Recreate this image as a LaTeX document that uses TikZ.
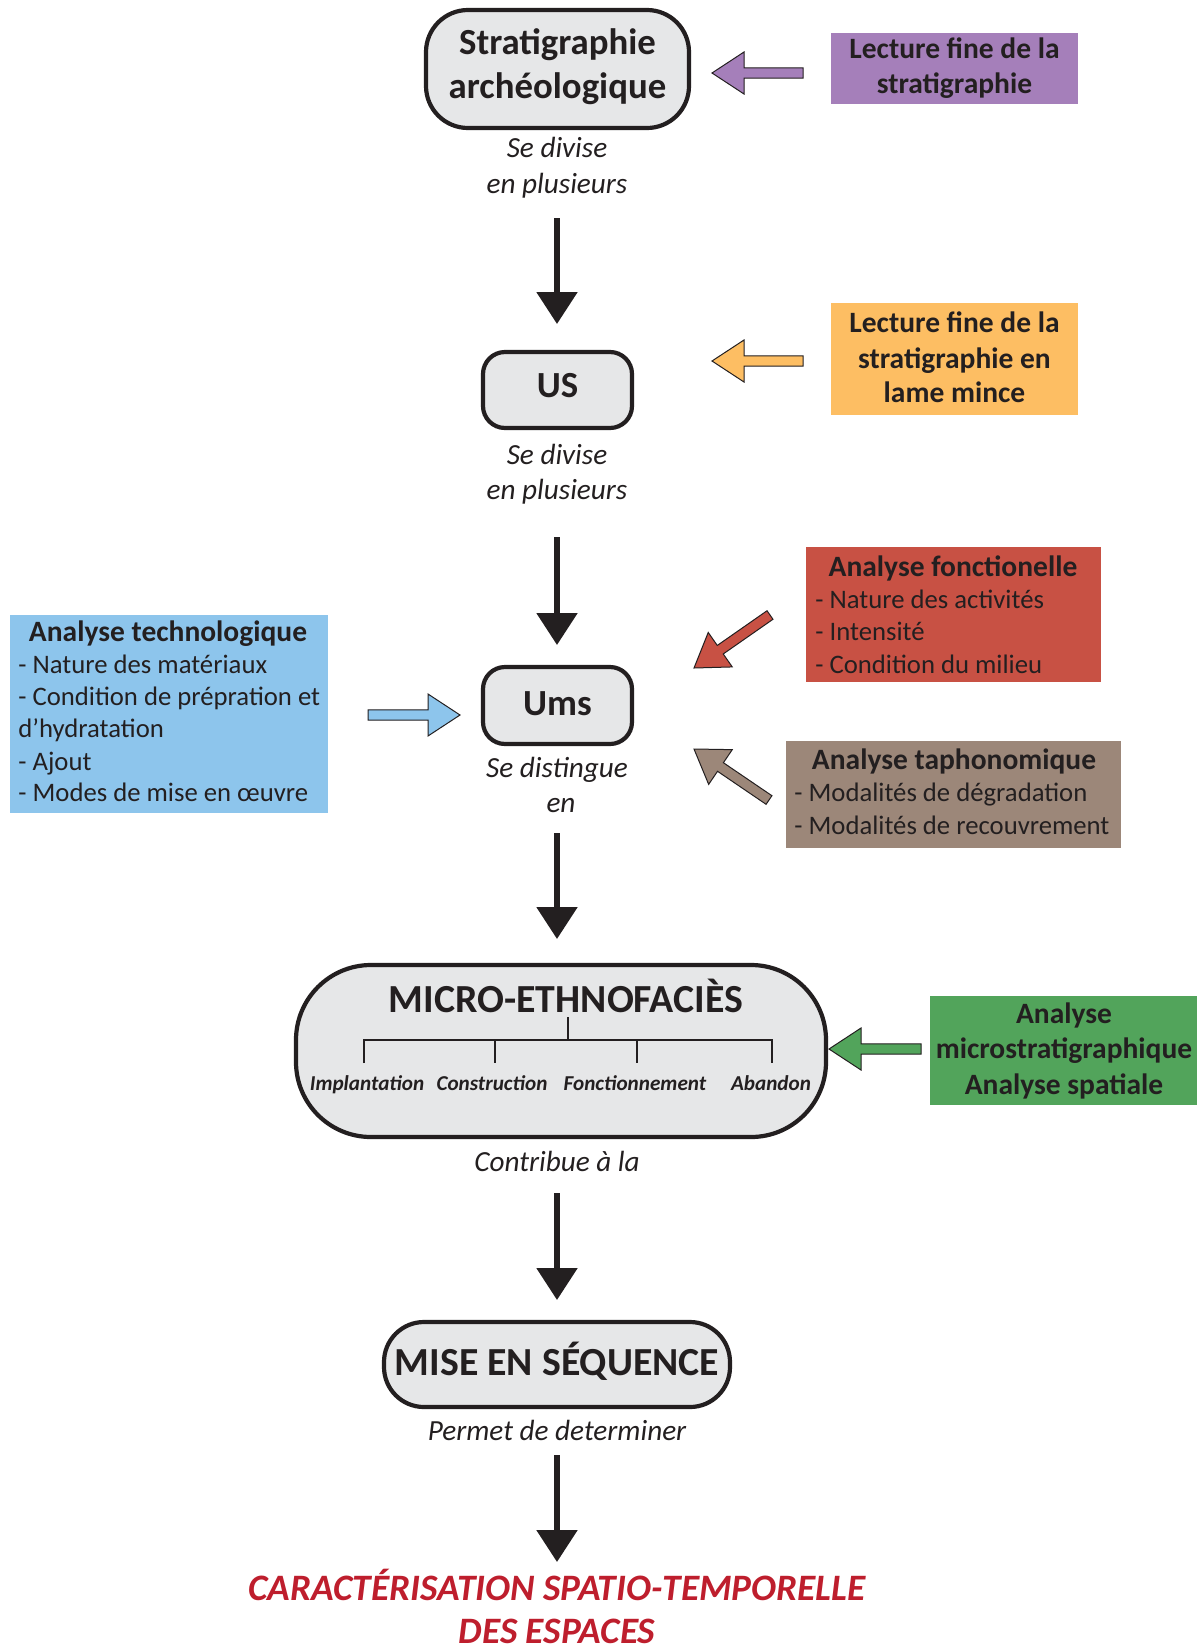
\documentclass[tikz,border=0pt]{standalone}
\usepackage{fontspec}
\setmainfont{Carlito}
\usetikzlibrary{calc,arrows.meta}
\definecolor{dk}{HTML}{231F20}
\definecolor{boxgray}{HTML}{E6E7E8}
\definecolor{cpurple}{HTML}{A57FBA}
\definecolor{corange}{HTML}{FDBE63}
\definecolor{cred}{HTML}{C85144}
\definecolor{cbrown}{HTML}{9C8779}
\definecolor{cblue}{HTML}{8DC5EC}
\definecolor{cgreen}{HTML}{52A45B}
\definecolor{ctitle}{HTML}{BE1E2D}
\newcommand\blockarrow[3]{%
  \path ($(#3)!16pt!(#2)$) coordinate (bh);
  \filldraw[blockarrowstyle, fill=#1]
    ($(#2)!2.6pt!90:(#3)$) -- ($(bh)!2.6pt!90:(#3)$) -- ($(bh)!10.5pt!90:(#3)$) -- (#3)
    -- ($(bh)!10.5pt!-90:(#3)$) -- ($(bh)!2.6pt!-90:(#3)$) -- ($(#2)!2.6pt!-90:(#3)$) -- cycle;
}
\tikzset{
  rbox/.style={draw=dk, line width=2.1pt, fill=boxgray, inner sep=0pt},
  cbox/.style={draw=none, inner sep=0pt},
  blockarrowstyle/.style={draw=dk, line width=0.5pt, line join=miter},
  flow/.style={draw=dk, line width=2.75pt, -{Triangle[width=20pt,length=16pt]}},
  treeline/.style={draw=dk, line width=1pt},
  ttl/.style={font=\bfseries\fontsize{14.75}{17}\selectfont, anchor=base, text=dk, inner sep=0pt},
  itm/.style={font=\fontsize{13.35}{16}\selectfont, anchor=base west, text=dk, inner sep=0pt},
  lbl/.style={font=\itshape\fontsize{14.6}{17}\selectfont, anchor=base, text=dk, inner sep=0pt},
  big/.style={font=\bfseries\fontsize{18.4}{22}\selectfont, anchor=base, text=dk, inner sep=0pt},
  huge/.style={font=\bfseries\fontsize{19.9}{23}\selectfont, anchor=base, text=dk, inner sep=0pt},
  sub/.style={font=\bfseries\itshape\fontsize{10.6}{12}\selectfont, anchor=base, text=dk, inner sep=0pt},
  fin/.style={font=\bfseries\itshape\fontsize{18.65}{22}\selectfont, anchor=base, text=ctitle, inner sep=0pt},
}
\begin{document}
\begin{tikzpicture}[x=0.5pt, y=-0.5pt]
\useasboundingbox (0,0) rectangle (1197,1650);

% ---- main boxes
\node[rbox, rounded corners=21pt, minimum width=131.5pt, minimum height=59pt] (strat) at (557.5,69) {};
\node[big] (strat1) at (557.5,54.5) {Stratigraphie};
\node[big] (strat2) at (557.5,98.5) {archéologique};
\node[lbl] (l1a) at (557,157) {Se divise};
\node[lbl] (l1b) at (557,193) {en plusieurs};

\node[rbox, rounded corners=11pt, minimum width=74.5pt, minimum height=38pt] (us) at (557.5,390) {};
\node[big] (ust) at (557.5,397) {US};
\node[lbl] (l2a) at (557,464) {Se divise};
\node[lbl] (l2b) at (557,499) {en plusieurs};

\node[rbox, rounded corners=11pt, minimum width=74.5pt, minimum height=38.5pt] (ums) at (557.5,705.5) {};
\node[big] (umst) at (557.5,715) {Ums};
\node[lbl] (l3a) at (557,777) {Se distingue};
\node[lbl] (l3b) at (561,812) {en};

\node[rbox, rounded corners=37.5pt, minimum width=265pt, minimum height=86pt] (micro) at (561,1051) {};
\node[huge] (microt) at (566,1012) {MICRO-ETHNOFACIÈS};
\node[sub] (s1) at (367,1090) {Implantation};
\node[sub] (s2) at (492,1090) {Construction};
\node[sub] (s3) at (635,1090) {Fonctionnement};
\node[sub] (s4) at (771,1090) {Abandon};
\draw[treeline] (568,1017) -- (568,1040);
\draw[treeline] (364,1063) -- (364,1040) -- (772,1040) -- (772,1063);
\draw[treeline] (495,1040) -- (495,1063);
\draw[treeline] (637,1040) -- (637,1063);
\node[lbl] (l4) at (557,1171) {Contribue à la};

\node[rbox, rounded corners=20pt, minimum width=173pt, minimum height=42.5pt] (mise) at (557,1364.5) {};
\node[huge] (miset) at (557,1375) {MISE EN SÉQUENCE};
\node[lbl] (l5) at (557,1440) {Permet de determiner};

\node[fin] (fin1) at (557,1600) {CARACTÉRISATION SPATIO-TEMPORELLE};
\node[fin] (fin2) at (557,1643) {DES ESPACES};

% ---- flow arrows
\coordinate (a1s) at (557,218); \coordinate (a1e) at (557,324);
\coordinate (a2s) at (557,537); \coordinate (a2e) at (557,645);
\coordinate (a3s) at (557,833); \coordinate (a3e) at (557,939);
\coordinate (a4s) at (557,1193); \coordinate (a4e) at (557,1300);
\coordinate (a5s) at (557,1455); \coordinate (a5e) at (557,1562);
\draw[flow] (a1s) -- (a1e);
\draw[flow] (a2s) -- (a2e);
\draw[flow] (a3s) -- (a3e);
\draw[flow] (a4s) -- (a4e);
\draw[flow] (a5s) -- (a5e);

% ---- coloured boxes
\node[cbox, fill=cpurple, minimum width=123.5pt, minimum height=35.5pt] (purple) at (954.5,68.5) {};
\node[ttl] (p1) at (954.5,58.5) {Lecture fine de la};
\node[ttl] (p2) at (954.5,93.5) {stratigraphie};

\node[cbox, fill=corange, minimum width=123.5pt, minimum height=56pt] (orange) at (954.5,359) {};
\node[ttl] (o1) at (954.5,332.5) {Lecture fine de la};
\node[ttl] (o2) at (954.5,368.5) {stratigraphie en};
\node[ttl] (o3) at (954.5,402.5) {lame mince};

\node[cbox, fill=cred, minimum width=147.5pt, minimum height=67.5pt] (red) at (953.5,614.5) {};
\node[ttl] (r0) at (953,576.5) {Analyse fonctionelle};
\node[itm] (r1) at (815,608.5) {- Nature des activités};
\node[itm] (r2) at (815,640.5) {- Intensité};
\node[itm] (r3) at (815,673.5) {- Condition du milieu};

\node[cbox, fill=cbrown, minimum width=167.5pt, minimum height=53.5pt] (brown) at (953.5,794.5) {};
\node[ttl] (b0) at (954,769.5) {Analyse taphonomique};
\node[itm] (b1) at (794,801.5) {- Modalités de dégradation};
\node[itm] (b2) at (794,834.5) {- Modalités de recouvrement};

\node[cbox, fill=cblue, minimum width=159.25pt, minimum height=99pt] (blue) at (168.75,714) {};
\node[ttl] (t0) at (168,641.5) {Analyse technologique};
\node[itm] (t1) at (18,673.5) {- Nature des matériaux};
\node[itm] (t2) at (18,705.5) {- Condition de prépration et};
\node[itm] (t3) at (18,737.5) {d’hydratation};
\node[itm] (t4) at (18,770.5) {- Ajout};
\node[itm] (t5) at (18,801.5) {- Modes de mise en œuvre};

\node[cbox, fill=cgreen, minimum width=133.5pt, minimum height=54.5pt] (green) at (1063.5,1050.5) {};
\node[ttl] (g1) at (1064,1023.5) {Analyse};
\node[ttl] (g2) at (1064,1058.5) {microstratigraphique};
\node[ttl] (g3) at (1064,1094.5) {Analyse spatiale};

% ---- block arrows
\coordinate (pa) at (803,73);   \coordinate (pb) at (712,73);
\coordinate (oa) at (803,361);  \coordinate (ob) at (712,361);
\coordinate (ra) at (770,615);  \coordinate (rb) at (694,668);
\coordinate (ba) at (769,800);  \coordinate (bb) at (694,749);
\coordinate (ta) at (368,715);  \coordinate (tb) at (460,715);
\coordinate (ga) at (921,1049); \coordinate (gb) at (829,1049);
\blockarrow{cpurple}{pa}{pb}
\blockarrow{corange}{oa}{ob}
\blockarrow{cred}{ra}{rb}
\blockarrow{cbrown}{ba}{bb}
\blockarrow{cblue}{ta}{tb}
\blockarrow{cgreen}{ga}{gb}
\end{tikzpicture}
\end{document}
